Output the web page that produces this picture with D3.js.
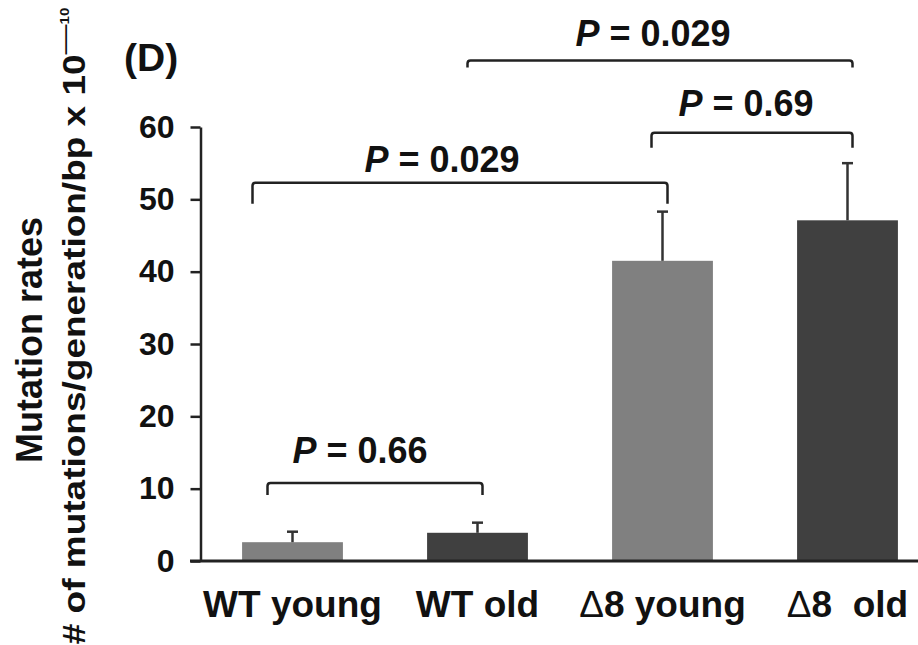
<!DOCTYPE html>
<html>
<head>
<meta charset="utf-8">
<script src="https://cdn.jsdelivr.net/npm/d3@7"></script>
<style>
  body { margin: 0; background: #fff; }
  svg { display: block; font-family: "Liberation Sans", Arial, Helvetica, sans-serif; font-weight: bold; }
</style>
</head>
<body>
<div id="chart"></div>
<script>
const categories = ["WT young", "WT old", "\u03948 young", "\u03948  old"];
const rates = [2.6, 3.9, 41.5, 47.1];
const errors = [1.45, 1.4, 6.8, 7.9];
const yTicks = [0, 10, 20, 30, 40, 50, 60];

// significance brackets: [from, to], bracket height in axis units, P value
const pairs = [[0, 1], [0, 2], [2, 3], [1, 3]];
const bracketLevels = [10.8, 52.3, 59.2, 69.2];
const pValues = ["0.66", "0.029", "0.69", "0.029"];

const width = 918, height = 645;
const barColors = ["#808080", "#404040", "#808080", "#404040"];

const svg = d3.select("#chart")
              .append("svg")
              .attr("width", width)
              .attr("height", height);

const x = d3.scaleBand()
            .domain(categories)
            .range([200, 940])
            .paddingInner(0.455)
            .paddingOuter(0.2275);

const y = d3.scaleLinear()
            .domain([0, 60])
            .range([561, 127]);

// bars
svg.selectAll(".bar")
   .data(categories)
   .enter()
   .append("rect")
   .attr("class", "bar")
   .attr("x", function(d) { return x(d); })
   .attr("width", x.bandwidth())
   .attr("y", function(d, i) { return y(rates[i]); })
   .attr("height", function(d, i) { return y(0) - y(rates[i]); })
   .attr("fill", function(d, i) { return barColors[i]; });

// upper error bars
const err = svg.selectAll(".err")
               .data(categories)
               .enter()
               .append("g")
               .attr("class", "err")
               .attr("stroke", "#333")
               .attr("stroke-width", 2.5);

err.append("line")
   .attr("x1", function(d) { return x(d) + x.bandwidth() / 2; })
   .attr("x2", function(d) { return x(d) + x.bandwidth() / 2; })
   .attr("y1", function(d, i) { return y(rates[i]); })
   .attr("y2", function(d, i) { return y(rates[i] + errors[i]); });

err.append("line")
   .attr("x1", function(d) { return x(d) + x.bandwidth() / 2 - 5.5; })
   .attr("x2", function(d) { return x(d) + x.bandwidth() / 2 + 5.5; })
   .attr("y1", function(d, i) { return y(rates[i] + errors[i]); })
   .attr("y2", function(d, i) { return y(rates[i] + errors[i]); });

// y axis
const yAxis = svg.append("g")
                 .attr("transform", "translate(200.5,0)")
                 .call(d3.axisLeft(y).tickValues(yTicks).tickSize(10).tickSizeOuter(0).tickPadding(16));

yAxis.select(".domain").attr("stroke", "#222").attr("stroke-width", 2.5);
yAxis.selectAll(".tick line").attr("stroke", "#222").attr("stroke-width", 2.5);
yAxis.selectAll(".tick text")
     .attr("fill", "#111")
     .style("font-size", "32px")
     .style("font-family", "inherit")
     .style("font-weight", "bold");

// x axis
svg.append("line")
   .attr("x1", 190)
   .attr("x2", width)
   .attr("y1", y(0))
   .attr("y2", y(0))
   .attr("stroke", "#222")
   .attr("stroke-width", 3);

const xLabels = svg.selectAll(".xlabel")
                   .data(categories)
                   .enter()
                   .append("text")
                   .attr("class", "xlabel")
                   .attr("x", function(d) { return x(d) + x.bandwidth() / 2; })
                   .attr("y", 617)
                   .attr("text-anchor", "middle")
                   .attr("fill", "#111")
                   .style("font-size", "37px")
                   .style("white-space", "pre");

xLabels.each(function(d) {
    const t = d3.select(this);
    if (d.charAt(0) === "\u0394") {
        t.append("tspan").style("font-weight", "normal").text("\u0394");
        t.append("tspan").text(d.slice(1));
    } else {
        t.text(d);
    }
});

// brackets
const leftPad = [25, 40, 11, 10];
const dropLen = [12, 21, 15, 7];
const textGap = [20, 11, 17, 14];
const textShift = [-15, -18, -6, -7];

pairs.forEach(function(p, i) {
    const x1 = x(categories[p[0]]) + x.bandwidth() / 2 - leftPad[i];
    const x2 = x(categories[p[1]]) + x.bandwidth() / 2 + 5;
    const yb = y(bracketLevels[i]);
    const r = 3;
    const path = "M" + x1 + "," + (yb + dropLen[i]) +
                 "V" + (yb + r) + "Q" + x1 + "," + yb + " " + (x1 + r) + "," + yb +
                 "H" + (x2 - r) + "Q" + x2 + "," + yb + " " + x2 + "," + (yb + r) +
                 "V" + (yb + dropLen[i]);
    svg.append("path")
       .attr("d", path)
       .attr("fill", "none")
       .attr("stroke", "#222")
       .attr("stroke-width", 2.5);

    const label = svg.append("text")
                     .attr("x", (x1 + x2) / 2 + textShift[i])
                     .attr("y", yb - textGap[i])
                     .attr("text-anchor", "middle")
                     .attr("fill", "#111")
                     .style("font-size", "36px")
                     .style("white-space", "pre");
    label.append("tspan").style("font-style", "italic").text("P");
    label.append("tspan").text(" = " + pValues[i]);
});

// panel letter
svg.append("text")
   .attr("x", 124)
   .attr("y", 71)
   .attr("fill", "#111")
   .style("font-size", "39px")
   .text("(D)");

// y axis title
svg.append("text")
   .attr("transform", "translate(42,340) rotate(-90)")
   .attr("text-anchor", "middle")
   .attr("fill", "#111")
   .style("font-size", "36px")
   .text("Mutation rates");

const yTitle2 = svg.append("text")
                   .attr("transform", "translate(85,326) rotate(-90) scale(1,0.85)")
                   .attr("text-anchor", "middle")
                   .attr("fill", "#111")
                   .style("font-size", "37px")
                   .style("white-space", "pre");
yTitle2.append("tspan").text("# of mutations/generation/bp x 10");
yTitle2.append("tspan").attr("dy", -14).style("font-size", "30px").style("font-weight", "normal").text("\u2014");
yTitle2.append("tspan").attr("dy", -5).style("font-size", "15px").text("10");
</script>
</body>
</html>
